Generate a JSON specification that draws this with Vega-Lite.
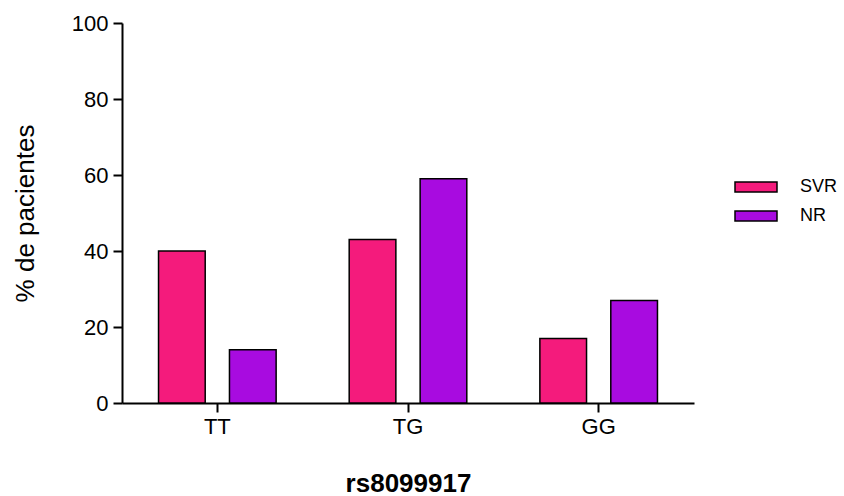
{
  "$schema": "https://vega.github.io/schema/vega-lite/v6.json",
  "autosize": "none",
  "width": 572,
  "height": 380,
  "padding": {"left": 122, "top": 23, "right": 150, "bottom": 93},
  "background": "white",
  "config": {
    "view": {"stroke": null},
    "font": "Liberation Sans",
    "axis": {"grid": false, "domainColor": "black", "tickColor": "black", "labelColor": "black", "titleColor": "black", "labelFont": "Liberation Sans", "titleFont": "Liberation Sans"}
  },
  "data": {
    "values": [
      {"genotype": "TT", "group": "SVR", "pct": 40},
      {"genotype": "TT", "group": "NR", "pct": 14},
      {"genotype": "TG", "group": "SVR", "pct": 43},
      {"genotype": "TG", "group": "NR", "pct": 59},
      {"genotype": "GG", "group": "SVR", "pct": 17},
      {"genotype": "GG", "group": "NR", "pct": 27}
    ]
  },
  "mark": {"type": "bar", "stroke": "black", "strokeWidth": 1.5},
  "encoding": {
    "x": {
      "field": "genotype", "type": "nominal", "sort": ["TT", "TG", "GG"],
      "scale": {"paddingInner": 0, "paddingOuter": 0},
      "axis": {
        "title": "rs8099917", "titleFontSize": 26, "titleFontWeight": "bold",
        "titleX": 286, "titleY": 88, "titleBaseline": "alphabetic", "titleAlign": "center",
        "labelFontSize": 22, "labelAngle": 0, "labelPadding": 4,
        "tickSize": 9, "tickWidth": 2, "domainWidth": 2
      }
    },
    "xOffset": {
      "field": "group", "type": "nominal", "sort": ["SVR", "NR"],
      "scale": {"paddingInner": 0.342, "paddingOuter": 0.515}
    },
    "y": {
      "field": "pct", "type": "quantitative",
      "scale": {"domain": [0, 100], "nice": false},
      "axis": {
        "title": "% de pacientes", "titleFontSize": 26, "titleFontWeight": "normal",
        "titleX": -89, "titleY": 190, "titleAngle": -90, "titleAlign": "center", "titleBaseline": "alphabetic",
        "values": [0, 20, 40, 60, 80, 100],
        "labelFontSize": 22, "labelPadding": 5,
        "tickSize": 9, "tickWidth": 2, "domainWidth": 2
      }
    },
    "color": {
      "field": "group", "type": "nominal", "sort": ["SVR", "NR"],
      "scale": {"domain": ["SVR", "NR"], "range": ["#F41B7C", "#A80BE0"]},
      "legend": {
        "title": null, "orient": "none", "legendX": 625, "legendY": 155,
        "symbolType": "M-3,-0.72H3V0.72H-3Z", "symbolSize": 196,
        "symbolStrokeColor": "black", "symbolStrokeWidth": 1.5, "symbolOpacity": 1,
        "labelFontSize": 18, "labelOffset": 35, "labelColor": "black", "labelFont": "Liberation Sans",
        "rowPadding": 11, "padding": 0
      }
    }
  }
}
